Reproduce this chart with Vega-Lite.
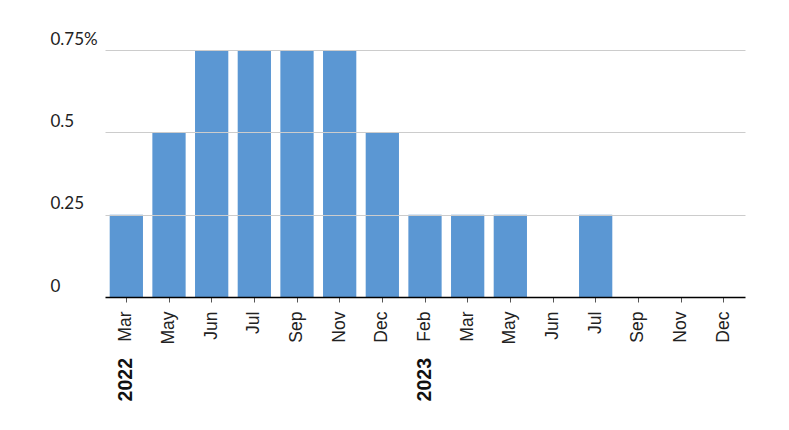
{
  "$schema": "https://vega.github.io/schema/vega-lite/v6.json",
  "width": 695,
  "height": 247,
  "autosize": "none",
  "padding": {"left": 50, "top": 50, "right": 44, "bottom": 133},
  "background": "white",
  "config": {"view": {"stroke": null}},
  "data": {
    "values": [
      {"key": "Mar 2022", "rate": 0.25, "year": "2022"},
      {"key": "May 2022", "rate": 0.5, "year": ""},
      {"key": "Jun 2022", "rate": 0.75, "year": ""},
      {"key": "Jul 2022", "rate": 0.75, "year": ""},
      {"key": "Sep 2022", "rate": 0.75, "year": ""},
      {"key": "Nov 2022", "rate": 0.75, "year": ""},
      {"key": "Dec 2022", "rate": 0.5, "year": ""},
      {"key": "Feb 2023", "rate": 0.25, "year": "2023"},
      {"key": "Mar 2023", "rate": 0.25, "year": ""},
      {"key": "May 2023", "rate": 0.25, "year": ""},
      {"key": "Jun 2023", "rate": 0, "year": ""},
      {"key": "Jul 2023", "rate": 0.25, "year": ""},
      {"key": "Sep 2023", "rate": 0, "year": ""},
      {"key": "Nov 2023", "rate": 0, "year": ""},
      {"key": "Dec 2023", "rate": 0, "year": ""}
    ]
  },
  "encoding": {
    "x": {
      "field": "key",
      "type": "nominal",
      "sort": null,
      "scale": {"range": [55, 695], "paddingInner": 0.22, "paddingOuter": 0.11},
      "axis": {
        "title": null,
        "domain": false,
        "labelAngle": 270,
        "labelAlign": "right",
        "labelBaseline": "middle",
        "labelPadding": 9,
        "labelFont": "Liberation Sans",
        "labelFontSize": 17.5,
        "labelColor": "#222",
        "tickSize": 5,
        "tickColor": "#555",
        "labelExpr": "split(datum.label, ' ')[0]"
      }
    }
  },
  "layer": [
    {
      "mark": {"type": "bar", "color": "#5b97d3"},
      "encoding": {
        "y": {
          "field": "rate",
          "type": "quantitative",
          "scale": {"domain": [0, 0.75], "nice": false},
          "axis": {
            "title": null,
            "domain": false,
            "ticks": false,
            "tickSize": 0,
            "labelPadding": 0,
            "labelAlign": "left",
            "labelBaseline": "alphabetic",
            "labelOffset": -6,
            "labelFont": "Lato",
            "labelFontSize": 17,
            "labelColor": "#222",
            "values": [0, 0.25, 0.5, 0.75],
            "labelExpr": "datum.value == 0.75 ? '0.75%' : '' + datum.value",
            "grid": true,
            "gridColor": {"condition": {"test": "datum.value === 0", "value": "#000"}, "value": "#cccccc"},
            "gridWidth": {"condition": {"test": "datum.value === 0", "value": 1.5}, "value": 1},
            "zindex": 1
          }
        }
      }
    },
    {
      "mark": {
        "type": "text",
        "angle": 270,
        "align": "right",
        "baseline": "middle",
        "dx": -61,
        "font": "Liberation Sans",
        "fontSize": 19.5,
        "fontWeight": "bold",
        "color": "#111"
      },
      "encoding": {
        "y": {"datum": 0},
        "text": {"field": "year"}
      }
    }
  ]
}
